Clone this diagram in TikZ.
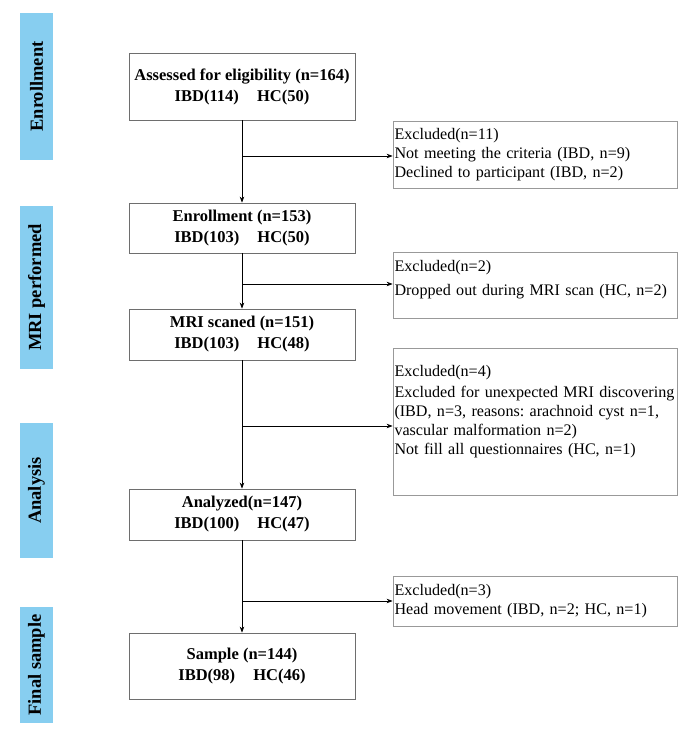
\documentclass[tikz,border=0pt]{standalone}
\usepackage{fontspec}
\setmainfont{Liberation Serif}
\usetikzlibrary{arrows.meta}
\frenchspacing
\definecolor{barblue}{RGB}{135,206,240}
\definecolor{boxline}{RGB}{110,110,110}
\tikzset{
  mainbox/.style={draw=boxline, line width=0.8pt, minimum width=226pt, inner sep=2pt,
    align=center, font=\fontsize{16.5}{21}\selectfont\bfseries},
  exbox/.style={draw=boxline!70, line width=0.8pt, text width=281pt, inner xsep=1.5pt, inner ysep=2pt,
    align=left, font=\fontsize{16.1}{19}\selectfont},
  sidebar/.style={fill=barblue, draw=none, minimum height=33pt, inner sep=0pt,
    font=\fontsize{18.5}{20}\selectfont\bfseries, rotate=90},
  arr/.style={-{Stealth[length=6pt,width=4.5pt]}, line width=0.7pt},
  ln/.style={line width=0.7pt}
}
\begin{document}
\begin{tikzpicture}[x=1pt,y=-1pt]
\useasboundingbox (0,0) rectangle (685,730);
% side bars
\node[sidebar, minimum width=147pt] (s1) at (36.5,86.5) {Enrollment};
\node[sidebar, minimum width=163pt] (s2) at (36.5,287.5) {MRI performed};
\node[sidebar, minimum width=135pt] (s3) at (36.5,490.5) {Analysis};
\node[sidebar, minimum width=116pt] (s4) at (36.5,665) {Final sample};
% main boxes
\node[mainbox, minimum height=67pt] (b1) at (242,86.5) {Assessed for eligibility (n=164)\\IBD(114)\hspace{1.1em}HC(50)};
\node[mainbox, minimum height=50pt] (b2) at (242,228) {Enrollment (n=153)\\IBD(103)\hspace{1.1em}HC(50)};
\node[mainbox, minimum height=51pt] (b3) at (242,334.5) {MRI scaned (n=151)\\IBD(103)\hspace{1.1em}HC(48)};
\node[mainbox, minimum height=51pt] (b4) at (242,514.5) {Analyzed(n=147)\\IBD(100)\hspace{1.1em}HC(47)};
\node[mainbox, minimum height=66pt] (b5) at (242,666) {Sample (n=144)\\IBD(98)\hspace{1.1em}HC(46)};
% exclusion boxes
\node[exbox, minimum height=67pt] (e1) at (535,154.5) {Excluded(n=11)\\Not meeting the criteria (IBD, n=9)\\Declined to participant (IBD, n=2)};
\node[exbox, minimum height=66pt] (e2) at (535,285) {Excluded(n=2)\\[5pt]Dropped out during MRI scan (HC, n=2)\\[-4pt]\mbox{}};
\node[exbox, minimum height=147pt] (e3) at (535,421.5) {Excluded(n=4)\\[2pt]Excluded for unexpected MRI discovering\\(IBD, n=3, reasons: arachnoid cyst n=1,\\vascular malformation n=2)\\Not fill all questionnaires (HC, n=1)\\[4pt]\mbox{}};
\node[exbox, minimum height=50pt] (e4) at (535,601) {Excluded(n=3)\\Head movement (IBD, n=2; HC, n=1)};
% junctions
\coordinate (j1) at (242,156);
\coordinate (j2) at (242,284);
\coordinate (j3) at (242,426);
\coordinate (j4) at (242,601);
% vertical arrows
\draw[arr] (b1.south) -- (b2.north);
\draw[arr] (b2.south) -- (b3.north);
\draw[arr] (b3.south) -- (b4.north);
\draw[arr] (b4.south) -- (b5.north);
% side arrows
\draw[arr] (j1) -- (j1 -| e1.west);
\draw[arr] (j2) -- (j2 -| e2.west);
\draw[arr] (j3) -- (j3 -| e3.west);
\draw[arr] (j4) -- (j4 -| e4.west);
\end{tikzpicture}
\end{document}
